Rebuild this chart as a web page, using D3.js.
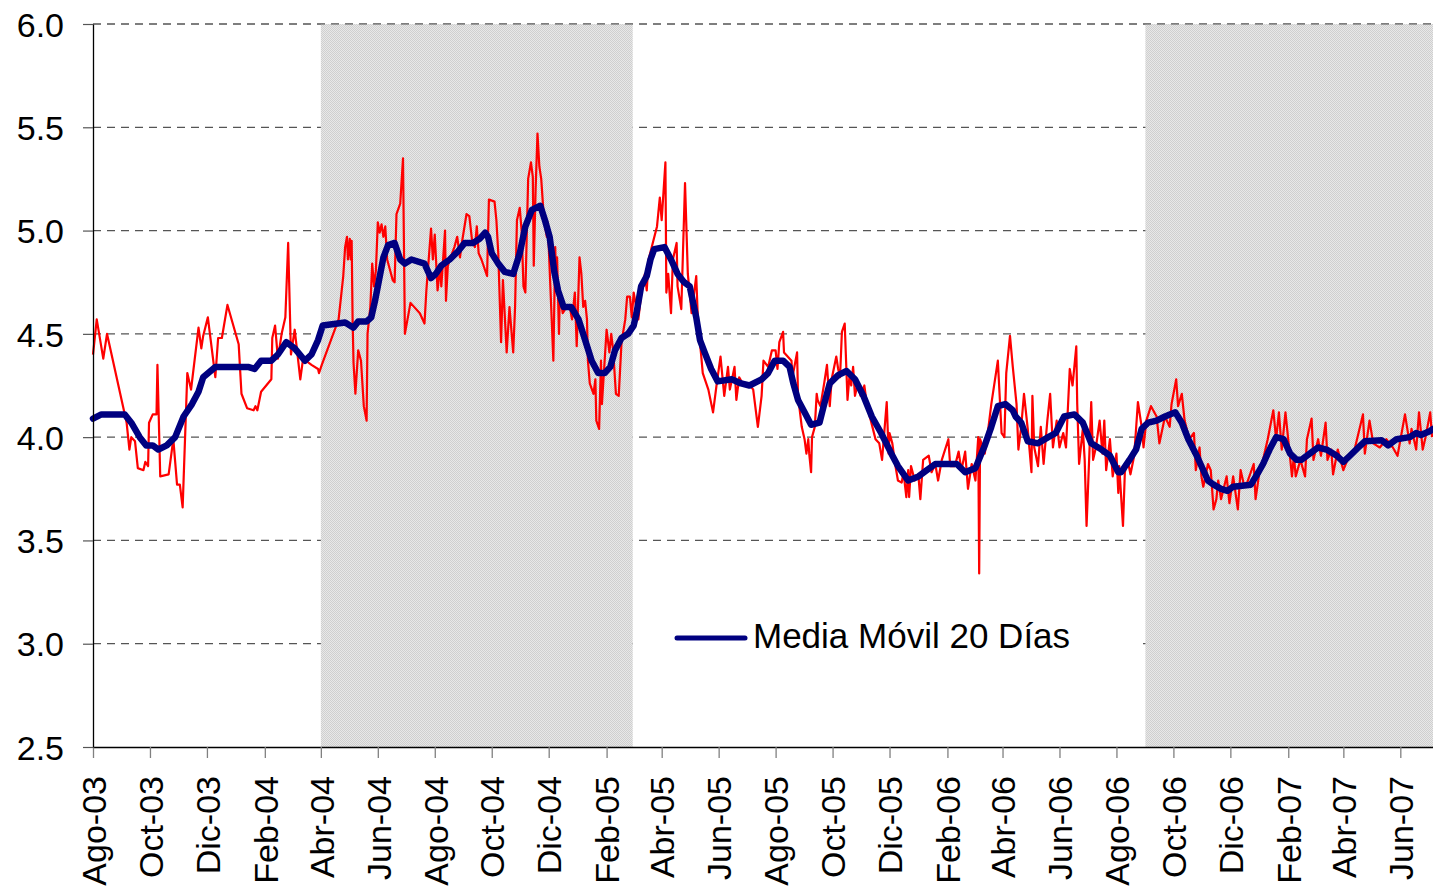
<!DOCTYPE html>
<html lang="es">
<head>
<meta charset="utf-8">
<title>Tasa diaria y Media Móvil 20 Días</title>
<script src="https://cdn.jsdelivr.net/npm/d3@7/dist/d3.min.js"></script>
<style>
  html, body { margin: 0; padding: 0; background: #ffffff; }
  svg { display: block; font-family: "Liberation Sans", Arial, sans-serif; }
</style>
</head>
<body>
<svg id="chart" width="1433" height="890"></svg>
<script>
// Daily rate (red thin line)
const tasaDiaria = [
  ["2003-08-01",4.40],["2003-08-05",4.57],["2003-08-12",4.38],["2003-08-16",4.50],["2003-09-06",4.07],
  ["2003-09-09",3.94],["2003-09-11",4.00],["2003-09-15",3.98],["2003-09-18",3.85],["2003-09-24",3.84],
  ["2003-09-26",3.88],["2003-09-29",3.86],["2003-09-30",4.07],["2003-10-04",4.11],["2003-10-08",4.11],
  ["2003-10-09",4.35],["2003-10-12",3.81],["2003-10-21",3.82],["2003-10-26",3.99],["2003-10-30",3.77],
  ["2003-11-02",3.77],["2003-11-05",3.66],["2003-11-10",4.31],["2003-11-14",4.23],["2003-11-22",4.53],
  ["2003-11-25",4.43],["2003-11-27",4.49],["2003-12-02",4.58],["2003-12-10",4.29],["2003-12-13",4.48],
  ["2003-12-17",4.48],["2003-12-23",4.64],["2004-01-04",4.45],["2004-01-07",4.21],["2004-01-13",4.14],
  ["2004-01-20",4.13],["2004-01-22",4.15],["2004-01-24",4.13],["2004-01-28",4.22],["2004-02-08",4.28],
  ["2004-02-09",4.48],["2004-02-12",4.54],["2004-02-15",4.38],["2004-02-19",4.50],["2004-02-23",4.58],
  ["2004-02-26",4.94],["2004-02-29",4.40],["2004-03-04",4.52],["2004-03-10",4.28],["2004-03-13",4.38],
  ["2004-03-22",4.35],["2004-03-29",4.33],["2004-03-30",4.31],["2004-04-02",4.35],["2004-04-20",4.57],
  ["2004-04-25",4.78],["2004-04-27",4.92],["2004-04-29",4.97],["2004-04-30",4.86],["2004-05-02",4.96],
  ["2004-05-03",4.86],["2004-05-04",4.95],["2004-05-05",4.57],["2004-05-06",4.36],["2004-05-08",4.21],
  ["2004-05-11",4.42],["2004-05-14",4.37],["2004-05-17",4.15],["2004-05-20",4.08],["2004-05-21",4.50],
  ["2004-05-24",4.63],["2004-05-26",4.84],["2004-05-28",4.73],["2004-05-30",4.81],["2004-06-01",5.04],
  ["2004-06-03",4.99],["2004-06-05",5.03],["2004-06-07",4.97],["2004-06-09",5.02],["2004-06-11",4.86],
  ["2004-06-14",4.81],["2004-06-17",4.76],["2004-06-19",4.75],["2004-06-21",5.08],["2004-06-25",5.13],
  ["2004-06-28",5.35],["2004-06-30",4.50],["2004-07-06",4.65],["2004-07-16",4.60],["2004-07-21",4.55],
  ["2004-07-23",4.71],["2004-07-28",5.01],["2004-07-30",4.86],["2004-08-01",4.98],["2004-08-04",4.71],
  ["2004-08-07",4.83],["2004-08-08",4.73],["2004-08-12",5.00],["2004-08-13",4.66],["2004-08-15",4.83],
  ["2004-08-18",4.87],["2004-08-22",4.92],["2004-08-25",4.97],["2004-08-28",4.87],["2004-08-30",4.94],
  ["2004-09-04",5.08],["2004-09-07",5.07],["2004-09-10",4.95],["2004-09-13",4.92],["2004-09-15",5.02],
  ["2004-09-17",4.89],["2004-09-20",4.86],["2004-09-26",4.78],["2004-09-27",4.97],["2004-09-28",5.15],
  ["2004-10-04",5.14],["2004-10-06",5.05],["2004-10-08",4.89],["2004-10-11",4.46],["2004-10-13",4.76],
  ["2004-10-17",4.41],["2004-10-20",4.63],["2004-10-24",4.41],["2004-10-26",4.63],["2004-10-28",5.05],
  ["2004-10-31",5.11],["2004-11-02",5.00],["2004-11-04",4.73],["2004-11-06",4.70],["2004-11-09",5.25],
  ["2004-11-12",5.33],["2004-11-14",5.26],["2004-11-15",4.83],["2004-11-17",5.20],["2004-11-19",5.47],
  ["2004-11-21",5.31],["2004-11-23",5.25],["2004-11-26",5.05],["2004-11-29",4.97],["2004-11-30",5.04],
  ["2004-12-06",4.37],["2004-12-08",4.92],["2004-12-09",4.73],["2004-12-10",4.87],["2004-12-12",4.50],
  ["2004-12-13",4.70],["2004-12-16",4.60],["2004-12-20",4.63],["2004-12-24",4.62],["2004-12-26",4.57],
  ["2004-12-29",4.70],["2004-12-31",4.44],["2005-01-03",4.87],["2005-01-05",4.79],["2005-01-07",4.63],
  ["2005-01-09",4.66],["2005-01-11",4.57],["2005-01-12",4.37],["2005-01-14",4.26],["2005-01-18",4.21],
  ["2005-01-20",4.28],["2005-01-21",4.08],["2005-01-24",4.04],["2005-01-26",4.37],["2005-01-27",4.16],
  ["2005-02-01",4.52],["2005-02-04",4.41],["2005-02-06",4.50],["2005-02-08",4.42],["2005-02-11",4.21],
  ["2005-02-14",4.20],["2005-02-17",4.46],["2005-02-21",4.57],["2005-02-23",4.68],["2005-02-26",4.68],
  ["2005-02-28",4.58],["2005-03-02",4.70],["2005-03-07",4.57],["2005-03-11",4.73],["2005-03-14",4.79],
  ["2005-03-16",4.71],["2005-03-18",4.86],["2005-03-23",4.95],["2005-03-27",5.02],["2005-03-30",5.16],
  ["2005-04-01",5.05],["2005-04-05",5.33],["2005-04-06",4.70],["2005-04-08",4.79],["2005-04-11",4.60],
  ["2005-04-13",4.86],["2005-04-17",4.94],["2005-04-18",4.73],["2005-04-22",4.62],["2005-04-26",5.23],
  ["2005-04-29",4.79],["2005-05-03",4.60],["2005-05-08",4.78],["2005-05-10",4.54],["2005-05-13",4.41],
  ["2005-05-15",4.31],["2005-05-21",4.23],["2005-05-26",4.12],["2005-05-30",4.26],["2005-06-03",4.39],
  ["2005-06-07",4.20],["2005-06-11",4.34],["2005-06-13",4.23],["2005-06-18",4.34],["2005-06-20",4.18],
  ["2005-06-23",4.29],["2005-06-28",4.25],["2005-07-03",4.26],["2005-07-08",4.23],["2005-07-13",4.05],
  ["2005-07-17",4.20],["2005-07-19",4.37],["2005-07-24",4.34],["2005-07-28",4.42],["2005-08-01",4.42],
  ["2005-08-03",4.33],["2005-08-05",4.46],["2005-08-09",4.51],["2005-08-10",4.41],["2005-08-18",4.37],
  ["2005-08-19",4.29],["2005-08-24",4.41],["2005-08-25",4.20],["2005-08-29",4.05],["2005-09-01",3.99],
  ["2005-09-03",3.92],["2005-09-05",3.99],["2005-09-06",3.92],["2005-09-08",3.83],["2005-09-09",4.00],
  ["2005-09-12",4.05],["2005-09-14",4.21],["2005-09-15",4.18],["2005-09-18",4.15],["2005-09-22",4.26],
  ["2005-09-25",4.35],["2005-09-28",4.15],["2005-09-30",4.28],["2005-10-05",4.39],["2005-10-07",4.33],
  ["2005-10-09",4.29],["2005-10-11",4.51],["2005-10-14",4.55],["2005-10-17",4.18],["2005-10-19",4.29],
  ["2005-10-21",4.25],["2005-10-23",4.34],["2005-10-25",4.20],["2005-10-28",4.26],["2005-10-31",4.20],
  ["2005-11-04",4.25],["2005-11-07",4.15],["2005-11-11",4.08],["2005-11-16",3.99],["2005-11-20",3.97],
  ["2005-11-23",3.89],["2005-11-28",4.17],["2005-11-30",3.92],["2005-12-01",4.02],["2005-12-04",3.97],
  ["2005-12-07",3.87],["2005-12-10",3.79],["2005-12-14",3.78],["2005-12-16",3.83],["2005-12-19",3.71],
  ["2005-12-21",3.84],["2005-12-22",3.71],["2005-12-24",3.86],["2005-12-28",3.79],["2006-01-01",3.81],
  ["2006-01-03",3.70],["2006-01-06",3.89],["2006-01-12",3.91],["2006-01-15",3.83],["2006-01-19",3.87],
  ["2006-01-22",3.79],["2006-01-26",3.89],["2006-02-02",3.99],["2006-02-04",3.86],["2006-02-09",3.86],
  ["2006-02-13",3.93],["2006-02-16",3.84],["2006-02-20",3.93],["2006-02-23",3.75],["2006-02-27",3.87],
  ["2006-03-03",3.79],["2006-03-06",4.00],["2006-03-07",3.34],["2006-03-08",3.99],["2006-03-13",3.92],
  ["2006-03-17",4.05],["2006-03-20",4.16],["2006-03-27",4.37],["2006-03-31",4.02],["2006-04-03",4.00],
  ["2006-04-05",4.31],["2006-04-09",4.49],["2006-04-12",4.34],["2006-04-16",4.16],["2006-04-18",3.94],
  ["2006-04-21",4.05],["2006-04-24",4.21],["2006-04-28",4.04],["2006-05-02",3.83],["2006-05-03",4.20],
  ["2006-05-05",3.95],["2006-05-09",3.86],["2006-05-12",4.05],["2006-05-15",3.87],["2006-05-19",4.08],
  ["2006-05-22",4.21],["2006-05-25",3.95],["2006-05-29",4.08],["2006-06-01",3.95],["2006-06-05",4.02],
  ["2006-06-08",3.95],["2006-06-12",4.33],["2006-06-15",4.25],["2006-06-19",4.44],["2006-06-20",4.16],
  ["2006-06-22",3.87],["2006-06-26",4.04],["2006-06-28",3.89],["2006-06-30",3.57],["2006-07-03",3.92],
  ["2006-07-05",4.17],["2006-07-07",3.89],["2006-07-10",3.95],["2006-07-14",4.08],["2006-07-17",3.92],
  ["2006-07-19",4.08],["2006-07-21",3.84],["2006-07-25",3.99],["2006-07-28",3.81],["2006-08-01",3.92],
  ["2006-08-03",3.73],["2006-08-04",3.86],["2006-08-08",3.57],["2006-08-10",3.83],["2006-08-13",3.89],
  ["2006-08-16",3.82],["2006-08-20",3.91],["2006-08-24",4.17],["2006-08-28",4.05],["2006-08-30",3.95],
  ["2006-09-02",4.08],["2006-09-07",4.15],["2006-09-13",4.10],["2006-09-16",3.97],["2006-09-22",4.10],
  ["2006-09-27",4.05],["2006-09-29",4.16],["2006-10-04",4.28],["2006-10-06",4.15],["2006-10-10",4.21],
  ["2006-10-13",4.08],["2006-10-18",3.99],["2006-10-23",4.02],["2006-10-25",3.84],["2006-10-29",3.95],
  ["2006-10-31",3.81],["2006-11-02",3.76],["2006-11-07",3.87],["2006-11-10",3.84],["2006-11-13",3.65],
  ["2006-11-16",3.70],["2006-11-18",3.79],["2006-11-21",3.70],["2006-11-27",3.81],["2006-11-30",3.68],
  ["2006-12-04",3.81],["2006-12-09",3.65],["2006-12-12",3.84],["2006-12-16",3.76],["2006-12-19",3.78],
  ["2006-12-26",3.87],["2006-12-28",3.70],["2007-01-02",3.86],["2007-01-05",3.89],["2007-01-10",3.99],
  ["2007-01-16",4.13],["2007-01-19",3.99],["2007-01-22",4.12],["2007-01-25",3.94],["2007-01-29",4.12],
  ["2007-02-05",3.81],["2007-02-07",3.91],["2007-02-09",3.81],["2007-02-14",3.89],["2007-02-19",3.81],
  ["2007-02-21",3.99],["2007-02-26",4.09],["2007-02-28",3.89],["2007-03-05",3.99],["2007-03-08",3.91],
  ["2007-03-13",4.07],["2007-03-15",3.89],["2007-03-19",3.94],["2007-03-21",3.82],["2007-03-26",3.94],
  ["2007-04-01",3.84],["2007-04-08",3.92],["2007-04-13",3.94],["2007-04-22",4.11],["2007-04-24",3.92],
  ["2007-04-29",4.08],["2007-05-03",3.97],["2007-05-10",3.95],["2007-05-17",3.99],["2007-05-24",3.95],
  ["2007-05-29",3.91],["2007-06-06",4.11],["2007-06-11",3.97],["2007-06-13",4.04],["2007-06-18",3.94],
  ["2007-06-21",4.12],["2007-06-25",3.94],["2007-06-28",4.00],["2007-07-03",4.12],["2007-07-05",4.00]
];

// 20-day moving average (thick navy line)
const mediaMovil20 = [
  ["2003-08-01",4.09],["2003-08-10",4.11],["2003-09-04",4.11],["2003-09-11",4.07],["2003-09-20",4.00],
  ["2003-09-27",3.96],["2003-10-04",3.96],["2003-10-10",3.94],["2003-10-19",3.96],["2003-10-28",4.00],
  ["2003-11-06",4.10],["2003-11-15",4.16],["2003-11-22",4.22],["2003-11-27",4.29],["2003-12-10",4.34],
  ["2004-01-14",4.34],["2004-01-21",4.33],["2004-01-28",4.37],["2004-02-08",4.37],["2004-02-15",4.40],
  ["2004-02-24",4.46],["2004-03-04",4.43],["2004-03-15",4.37],["2004-03-22",4.40],["2004-03-29",4.47],
  ["2004-04-03",4.54],["2004-04-27",4.555],["2004-05-06",4.53],["2004-05-11",4.56],["2004-05-20",4.56],
  ["2004-05-25",4.58],["2004-05-29",4.66],["2004-06-01",4.73],["2004-06-07",4.87],["2004-06-12",4.93],
  ["2004-06-19",4.94],["2004-06-25",4.86],["2004-06-30",4.84],["2004-07-07",4.86],["2004-07-21",4.84],
  ["2004-07-28",4.77],["2004-08-02",4.79],["2004-08-08",4.83],["2004-08-17",4.86],["2004-08-26",4.90],
  ["2004-09-02",4.94],["2004-09-11",4.94],["2004-09-18",4.96],["2004-09-24",4.99],["2004-09-27",4.97],
  ["2004-10-01",4.89],["2004-10-08",4.84],["2004-10-15",4.80],["2004-10-24",4.79],["2004-10-31",4.89],
  ["2004-11-06",5.02],["2004-11-13",5.10],["2004-11-22",5.12],["2004-11-27",5.05],["2004-12-02",4.97],
  ["2004-12-07",4.80],["2004-12-11",4.71],["2004-12-17",4.63],["2004-12-25",4.63],["2005-01-02",4.57],
  ["2005-01-09",4.47],["2005-01-16",4.37],["2005-01-23",4.31],["2005-01-30",4.31],["2005-02-05",4.34],
  ["2005-02-10",4.42],["2005-02-17",4.48],["2005-02-24",4.50],["2005-03-02",4.54],["2005-03-05",4.60],
  ["2005-03-10",4.73],["2005-03-16",4.78],["2005-03-20",4.86],["2005-03-24",4.91],["2005-04-04",4.92],
  ["2005-04-11",4.86],["2005-04-18",4.79],["2005-04-25",4.75],["2005-05-01",4.73],["2005-05-08",4.58],
  ["2005-05-12",4.47],["2005-05-17",4.41],["2005-05-24",4.33],["2005-05-31",4.27],["2005-06-15",4.28],
  ["2005-06-25",4.26],["2005-07-04",4.25],["2005-07-17",4.28],["2005-07-24",4.31],["2005-07-31",4.37],
  ["2005-08-09",4.37],["2005-08-16",4.34],["2005-08-20",4.26],["2005-08-25",4.18],["2005-09-01",4.12],
  ["2005-09-08",4.06],["2005-09-17",4.07],["2005-09-22",4.16],["2005-09-28",4.26],["2005-10-07",4.30],
  ["2005-10-16",4.32],["2005-10-25",4.28],["2005-11-03",4.20],["2005-11-12",4.10],["2005-11-22",4.02],
  ["2005-12-03",3.92],["2005-12-10",3.86],["2005-12-21",3.79],["2006-01-01",3.81],["2006-01-10",3.84],
  ["2006-01-19",3.87],["2006-02-11",3.87],["2006-02-20",3.83],["2006-03-03",3.85],["2006-03-13",3.96],
  ["2006-03-20",4.05],["2006-03-27",4.15],["2006-04-04",4.16],["2006-04-12",4.13],["2006-04-15",4.10],
  ["2006-04-21",4.07],["2006-04-28",3.98],["2006-05-09",3.97],["2006-05-20",4.00],["2006-05-28",4.02],
  ["2006-06-06",4.10],["2006-06-17",4.11],["2006-06-26",4.07],["2006-07-05",3.97],["2006-07-16",3.94],
  ["2006-07-25",3.91],["2006-08-03",3.83],["2006-08-06",3.83],["2006-08-15",3.89],["2006-08-22",3.94],
  ["2006-08-28",4.04],["2006-09-04",4.07],["2006-09-13",4.08],["2006-09-22",4.10],["2006-10-03",4.12],
  ["2006-10-10",4.07],["2006-10-17",3.99],["2006-10-26",3.91],["2006-10-30",3.87],["2006-11-07",3.79],
  ["2006-11-13",3.77],["2006-11-21",3.75],["2006-11-28",3.74],["2006-12-04",3.76],["2006-12-23",3.77],
  ["2006-12-31",3.83],["2007-01-05",3.87],["2007-01-12",3.94],["2007-01-19",4.00],["2007-01-27",3.99],
  ["2007-02-03",3.92],["2007-02-10",3.89],["2007-02-15",3.89],["2007-02-24",3.92],["2007-03-05",3.95],
  ["2007-03-14",3.94],["2007-03-25",3.91],["2007-04-01",3.88],["2007-04-08",3.91],["2007-04-17",3.95],
  ["2007-04-24",3.98],["2007-05-12",3.985],["2007-05-19",3.96],["2007-05-28",3.99],["2007-06-11",4.00],
  ["2007-06-18",4.02],["2007-06-23",4.01],["2007-07-03",4.03],["2007-07-06",4.04]
];

// Shaded periods (start, end)
const periodosSombreados = [
  ["2004-04-01","2005-03-01"],
  ["2006-09-01","2007-07-06"]
];

const mesesAbrev = ["Ene","Feb","Mar","Abr","May","Jun","Jul","Ago","Sep","Oct","Nov","Dic"];
const yTicks = [2.5, 3.0, 3.5, 4.0, 4.5, 5.0, 5.5, 6.0];
const periodo = ["2003-08-01","2007-07-06"];
const leyenda = "Media Móvil 20 Días";

const parse = d3.utcParse("%Y-%m-%d");
const svg = d3.select("#chart");

const plot = { left: 93, right: 1433, top: 24, bottom: 747 };

const x = d3.scaleUtc()
  .domain(periodo.map(parse))
  .range([plot.left, plot.right]);

const y = d3.scaleLinear()
  .domain([2.5, 6.0])
  .range([plot.bottom, plot.top]);

// Fine checkered fill used for the shaded periods
const defs = svg.append("defs");
const pat = defs.append("pattern")
  .attr("id", "trama")
  .attr("patternUnits", "userSpaceOnUse")
  .attr("width", 2).attr("height", 2);
pat.append("rect").attr("width", 2).attr("height", 2).attr("fill", "#e8e8e8");
pat.append("rect").attr("x", 0).attr("y", 0).attr("width", 1).attr("height", 1).attr("fill", "#cfcfcf");
pat.append("rect").attr("x", 1).attr("y", 1).attr("width", 1).attr("height", 1).attr("fill", "#cfcfcf");

// Horizontal dashed gridlines
svg.append("g")
  .selectAll("line")
  .data(yTicks.filter(v => v > 2.5))
  .join("line")
  .attr("x1", plot.left).attr("x2", plot.right)
  .attr("y1", d => y(d)).attr("y2", d => y(d))
  .attr("stroke", "#555")
  .attr("stroke-width", 1.2)
  .attr("stroke-dasharray", "8,6");

// Shaded periods
svg.append("g")
  .selectAll("rect")
  .data(periodosSombreados)
  .join("rect")
  .attr("x", d => x(parse(d[0])))
  .attr("width", d => x(parse(d[1])) - x(parse(d[0])))
  .attr("y", y(6.0))
  .attr("height", y(2.5) - y(6.0))
  .attr("fill", "url(#trama)");

// Top line stays visible across the shading
svg.append("line")
  .attr("x1", plot.left).attr("x2", plot.right)
  .attr("y1", y(6.0)).attr("y2", y(6.0))
  .attr("stroke", "#555")
  .attr("stroke-width", 1.2)
  .attr("stroke-dasharray", "8,6");

// Legend background (white box between the two shaded bands)
svg.append("rect")
  .attr("x", 633).attr("y", 604)
  .attr("width", 510).attr("height", 68)
  .attr("fill", "#ffffff");

// Series
const line = d3.line()
  .x(d => x(parse(d[0])))
  .y(d => y(d[1]));

svg.append("path")
  .datum(tasaDiaria)
  .attr("d", line)
  .attr("fill", "none")
  .attr("stroke", "#ff0000")
  .attr("stroke-width", 2.2)
  .attr("stroke-linejoin", "round");

svg.append("path")
  .datum(mediaMovil20)
  .attr("d", line)
  .attr("fill", "none")
  .attr("stroke", "#000080")
  .attr("stroke-width", 6.5)
  .attr("stroke-linejoin", "round")
  .attr("stroke-linecap", "round");

// Axes
const fontSize = 34;

const xTickValues = d3.utcMonth.range(parse(periodo[0]), parse(periodo[1]), 2);
const xAxis = d3.axisBottom(x)
  .tickValues(xTickValues)
  .tickSize(11)
  .tickSizeOuter(0)
  .tickFormat(d => mesesAbrev[d.getUTCMonth()] + "-" + d3.utcFormat("%y")(d));

const gx = svg.append("g")
  .attr("transform", `translate(0,${plot.bottom})`)
  .call(xAxis);
gx.select(".domain").attr("stroke", "#000").attr("stroke-width", 1.3);
gx.selectAll(".tick line").attr("stroke", "#808080").attr("stroke-width", 1.3);
gx.selectAll(".tick text")
  .attr("font-size", fontSize)
  .attr("font-family", "'Liberation Sans', Arial, sans-serif")
  .attr("fill", "#000")
  .attr("transform", "rotate(-90)")
  .attr("text-anchor", "end")
  .attr("x", -29)
  .attr("y", 0)
  .attr("dy", "0.36em");

const yAxis = d3.axisLeft(y)
  .tickValues(yTicks)
  .tickSize(10)
  .tickSizeOuter(0)
  .tickPadding(19)
  .tickFormat(d3.format(".1f"));

const gy = svg.append("g")
  .attr("transform", `translate(${plot.left},0)`)
  .call(yAxis);
gy.select(".domain").attr("stroke", "#000").attr("stroke-width", 1.3);
gy.selectAll(".tick line").attr("stroke", "#555").attr("stroke-width", 1.2);
gy.selectAll(".tick text")
  .attr("font-size", fontSize)
  .attr("font-family", "'Liberation Sans', Arial, sans-serif")
  .attr("fill", "#000")
  .attr("dy", "0.36em");

// Legend
const lg = svg.append("g").attr("transform", "translate(677,638)");
lg.append("line")
  .attr("x1", 0).attr("x2", 68)
  .attr("y1", 0).attr("y2", 0)
  .attr("stroke", "#000080")
  .attr("stroke-width", 5)
  .attr("stroke-linecap", "round");
lg.append("text")
  .attr("x", 76)
  .attr("y", 10)
  .attr("font-size", 35)
  .attr("fill", "#000")
  .text(leyenda);
</script>
</body>
</html>
